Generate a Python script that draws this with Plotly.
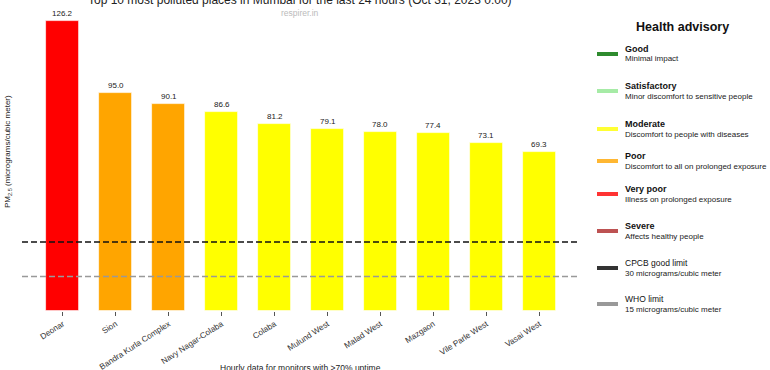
import plotly.graph_objects as go

places = ["Deonar", "Sion", "Bandra Kurla Complex", "Navy Nagar-Colaba", "Colaba",
          "Mulund West", "Malad West", "Mazgaon", "Vile Parle West", "Vasai West"]
pm25 = [126.2, 95.0, 90.1, 86.6, 81.2, 79.1, 78.0, 77.4, 73.1, 69.3]
bar_colors = ["#FF0000", "#FFA500", "#FFA500", "#FFFF00", "#FFFF00",
              "#FFFF00", "#FFFF00", "#FFFF00", "#FFFF00", "#FFFF00"]

cpcb_limit = 30
who_limit = 15

legend_labels = ["Good", "Satisfactory", "Moderate", "Poor", "Very poor", "Severe",
                 "CPCB good limit", "WHO limit"]
legend_desc = ["Minimal impact", "Minor discomfort to sensitive people",
               "Discomfort to people with diseases", "Discomfort to all on prolonged exposure",
               "Illness on prolonged exposure", "Affects healthy people",
               "30 micrograms/cubic meter", "15 micrograms/cubic meter"]
legend_colors = ["#2E8B2E", "#A6EBA6", "#FFFF33", "#FFB732", "#FF3333", "#BD5252",
                 "#333333", "#999999"]
legend_bold = [True, True, True, True, True, True, False, False]

title = "Top 10 most polluted places in Mumbai for the last 24 hours (Oct 31, 2023 0:00)"
subtitle = "respirer.in"
footer = "Hourly data for monitors with >70% uptime"

W, H = 770, 370
L, R, T, B = 22, 192, 7, 59
PW, PH = W - L - R, H - T - B

def px(x):
    return (x - L) / PW

def py(y):
    return (H - B - y) / PH

FONT = "Liberation Sans, Arial, sans-serif"

fig = go.Figure()
fig.add_trace(go.Bar(
    x=list(range(len(places))), y=pm25, width=0.62,
    marker=dict(color=bar_colors, line=dict(color="rgba(255,255,255,0.8)", width=0.8)),
    showlegend=False, hoverinfo="x+y"))

annotations = []
for i, v in enumerate(pm25):
    annotations.append(dict(x=i, y=v, text=f"{v:.1f}", showarrow=False, yanchor="bottom",
                            yshift=1, font=dict(size=8, color="#222222", family=FONT)))

shapes = [
    dict(type="line", xref="paper", yref="y", x0=0, x1=1, y0=cpcb_limit, y1=cpcb_limit,
         line=dict(color="#111111", width=1.6, dash="6px,3px")),
    dict(type="line", xref="paper", yref="y", x0=0, x1=1, y0=who_limit, y1=who_limit,
         line=dict(color="#999999", width=1.6, dash="6px,3px")),
]

# Title, subtitle, footer, y-label
annotations.append(dict(xref="paper", yref="paper", x=px(300), y=py(0), text=title,
                        showarrow=False, yanchor="middle", xanchor="center",
                        font=dict(size=12, color="#222222", family=FONT)))
annotations.append(dict(xref="paper", yref="paper", x=px(300), y=py(13), text=subtitle,
                        showarrow=False, yanchor="middle", xanchor="center",
                        font=dict(size=8.5, color="#BBBBBB", family=FONT)))
annotations.append(dict(xref="paper", yref="paper", x=px(300), y=py(368), text=footer,
                        showarrow=False, yanchor="middle", xanchor="center",
                        font=dict(size=8.5, color="#222222", family=FONT)))
annotations.append(dict(xref="paper", yref="paper", x=px(8), y=py(152),
                        text="PM<sub>2.5</sub> (micrograms/cubic meter)", textangle=-90,
                        showarrow=False, yanchor="middle", xanchor="center",
                        font=dict(size=8, color="#222222", family=FONT)))

# Legend
annotations.append(dict(xref="paper", yref="paper", x=px(682), y=py(27), text="<b>Health advisory</b>",
                        showarrow=False, yanchor="middle", xanchor="center",
                        font=dict(size=12.5, color="#111111", family=FONT)))
swatch_y = [54, 91, 129, 161, 194, 231, 268, 304]
for lab, desc, col, bold, sy in zip(legend_labels, legend_desc, legend_colors, legend_bold, swatch_y):
    shapes.append(dict(type="line", xref="paper", yref="paper", x0=px(597), x1=px(618),
                       y0=py(sy), y1=py(sy), line=dict(color=col, width=4)))
    annotations.append(dict(xref="paper", yref="paper", x=px(623), y=py(sy - 5),
                            text=f"<b>{lab}</b>" if bold else lab, showarrow=False,
                            xanchor="left", yanchor="middle",
                            font=dict(size=9 if bold else 8.5, color="#111111", family=FONT)))
    annotations.append(dict(xref="paper", yref="paper", x=px(623), y=py(sy + 5),
                            text=desc, showarrow=False, xanchor="left", yanchor="middle",
                            font=dict(size=8, color="#222222", family=FONT)))

fig.update_layout(
    width=W, height=H, margin=dict(l=L, r=R, t=T, b=B, pad=0, autoexpand=False),
    paper_bgcolor="white", plot_bgcolor="white",
    font=dict(family=FONT, size=8.5, color="#333333"),
    bargap=0,
    xaxis=dict(tickmode="array", tickvals=list(range(len(places))), ticktext=places,
               tickangle=-33, range=[-0.77, 9.73], showgrid=False, zeroline=False,
               showline=False, ticks="outside", ticklen=4, tickcolor="#555555",
               automargin=False,
               tickfont=dict(size=8.2, color="#333333", family=FONT)),
    yaxis=dict(range=[0, PH / 2.298], visible=False, showgrid=False, zeroline=False,
               automargin=False),
    shapes=shapes, annotations=annotations,
)

fig.write_html("out.html", config={"displayModeBar": False},
               post_script="document.body.style.margin='0';document.body.style.overflow='hidden';")
